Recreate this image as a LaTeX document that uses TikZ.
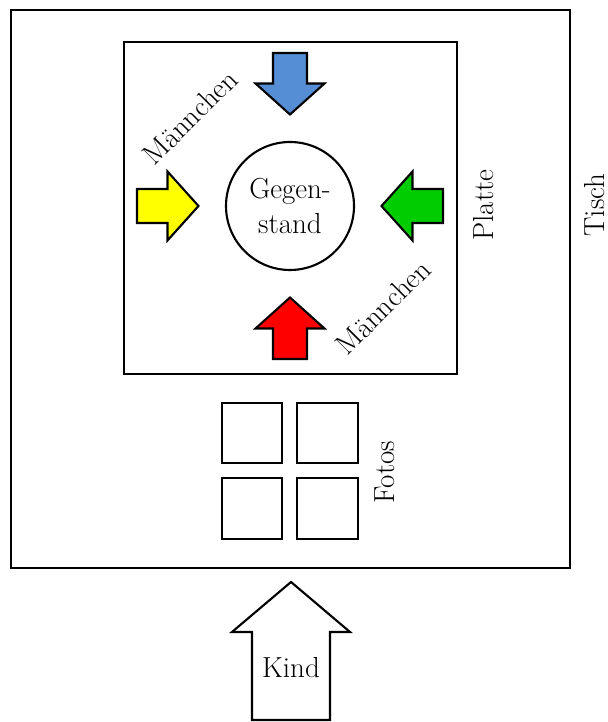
\documentclass[tikz,border=0pt]{standalone}
\usepackage{amsmath}
\usepackage{tikz}

\definecolor{pilblaa}{RGB}{85,142,213}
\definecolor{pilgul}{RGB}{255,255,0}
\definecolor{pilgroen}{RGB}{0,204,0}
\definecolor{pilroed}{RGB}{255,0,0}

\begin{document}
\begin{tikzpicture}[line width=1.2pt, line join=miter, font=\fontsize{16.5}{20}\selectfont]
\useasboundingbox (0,0) rectangle (12.16,14.44);
%tisch
\draw (0.22,3.08) rectangle (11.4,14.24);
\node [rotate=90, inner sep=1pt] (tisch) at (11.9,10.34) {Tisch};
%platte
\draw (2.48,6.96) rectangle (9.14,13.6);
\node [rotate=90, inner sep=1pt] (platte) at (9.68,10.34) {Platte};
%gegenstand
\node [draw, circle, minimum size=2.56cm, align=center, inner sep=0pt] (gegenstand) at (5.8,10.32) {Gegen-\\stand};
%pile
\draw [fill=pilblaa] (5.46,13.38)--(6.14,13.38)--(6.14,12.77)--(6.49,12.77)--(5.8,12.15)--(5.11,12.77)--(5.46,12.77)--cycle;
\draw [fill=pilroed] (5.46,7.26)--(6.14,7.26)--(6.14,7.87)--(6.49,7.87)--(5.8,8.49)--(5.11,7.87)--(5.46,7.87)--cycle;
\draw [fill=pilgul] (2.74,9.98)--(2.74,10.66)--(3.35,10.66)--(3.35,11.01)--(3.97,10.32)--(3.35,9.63)--(3.35,9.98)--cycle;
\draw [fill=pilgroen] (8.86,9.98)--(8.86,10.66)--(8.25,10.66)--(8.25,11.01)--(7.63,10.32)--(8.25,9.63)--(8.25,9.98)--cycle;
%maennchen
\node [rotate=45, inner sep=1pt] (maennchenA) at (3.8,12.1) {Männchen};
\node [rotate=45, inner sep=1pt] (maennchenB) at (7.66,8.3) {Männchen};
%fotos
\draw (4.44,5.18) rectangle (5.64,6.38);
\draw (5.94,5.18) rectangle (7.16,6.38);
\draw (4.44,3.66) rectangle (5.64,4.88);
\draw (5.94,3.66) rectangle (7.16,4.88);
\node [rotate=90, inner sep=1pt] (fotos) at (7.7,5.0) {Fotos};
%kind
\draw (5.04,0.04)--(6.6,0.04)--(6.6,1.8)--(7.0,1.8)--(5.82,2.8)--(4.64,1.8)--(5.04,1.8)--cycle;
\node (kind) at (5.82,1.08) {Kind};
\end{tikzpicture}
\end{document}
